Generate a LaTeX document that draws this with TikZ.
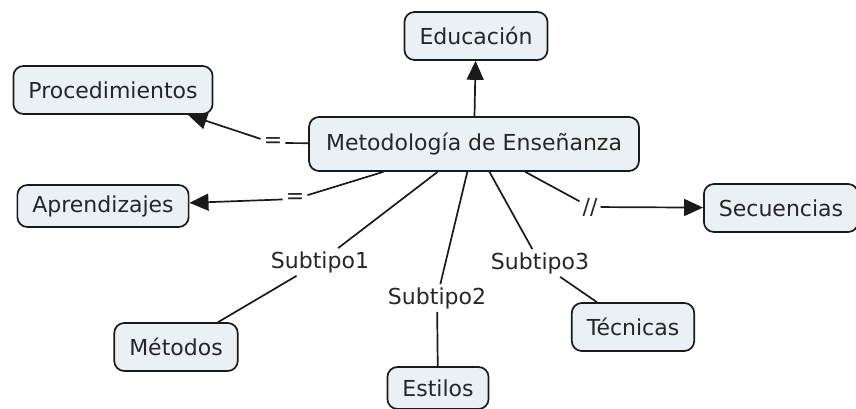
\documentclass[tikz,border=0pt]{standalone}
\usepackage{fontspec}
\setmainfont{DejaVu Sans}
\usepackage{tikz}
\usetikzlibrary{shapes.geometric, arrows.meta, positioning}
\definecolor{cmapfill}{HTML}{EAF1F4}
\definecolor{cmapline}{HTML}{1A1A1A}
\tikzset{
  concept/.style = {
    rectangle,
    rounded corners=10pt,
    minimum height=48pt,
    inner xsep=15pt,
    text centered,
    draw=cmapline,
    fill=cmapfill,
    line width=1.7pt,
    text=black!85,
    font=\fontsize{22}{26}\selectfont
  },
  concept_main/.style = {
    concept,
    minimum height=54pt,
    inner xsep=17pt
  },
  linkword/.style = {
    inner sep=3pt,
    text=black!85,
    font=\fontsize{22}{26}\selectfont
  },
  link/.style = {
    line width=1.7pt,
    draw=cmapline
  },
  arrow/.style = {
    link,
    -{Triangle[length=19pt, width=17pt]}
  }
}

\begin{document}
\begin{tikzpicture}[x=1pt, y=-1pt]
\useasboundingbox (0,0) rectangle (856,409);

% ===== Conceptos =====
\node (meto) [concept_main] at (474,144) {Metodología de Enseñanza};
\node (edu)  [concept] at (476,36) {Educación};
\node (proc) [concept] at (113,90) {Procedimientos};
\node (apre) [concept, minimum height=42pt] at (103,206) {Aprendizajes};
\node (secu) [concept] at (781,208) {Secuencias};
\node (meto1) [concept] at (176,347) {Métodos};
\node (esti) [concept, minimum height=42pt] at (438,388) {Estilos};
\node (tecn) [concept] at (633,327) {Técnicas};

% ===== Palabras de enlace =====
\node (eq1) [linkword] at (273,143) {=};
\node (eq2) [linkword] at (295,199) {=};
\node (sl)  [linkword] at (590,207) {//};
\node (st1) [linkword] at (320,262) {Subtipo1};
\node (st2) [linkword] at (437,298) {Subtipo2};
\node (st3) [linkword] at (540,263) {Subtipo3};

% ===== Enlaces =====
\draw [arrow] (meto) -- (edu);

\draw [link]  (meto) -- (eq1);
\draw [arrow] (eq1) -- (proc);

\draw [link]  (meto) -- (eq2);
\draw [arrow] (eq2) -- (apre);

\draw [link]  (meto) -- (sl);
\draw [arrow] (sl) -- (secu);

\draw [link]  (meto) -- (st1);     % subtipos, sin flecha
\draw [link]  (st1) -- (meto1);
\draw [link]  (meto) -- (st2);
\draw [link]  (st2) -- (esti);
\draw [link]  (meto) -- (st3);
\draw [link]  (st3) -- (tecn);

\end{tikzpicture}
\end{document}
